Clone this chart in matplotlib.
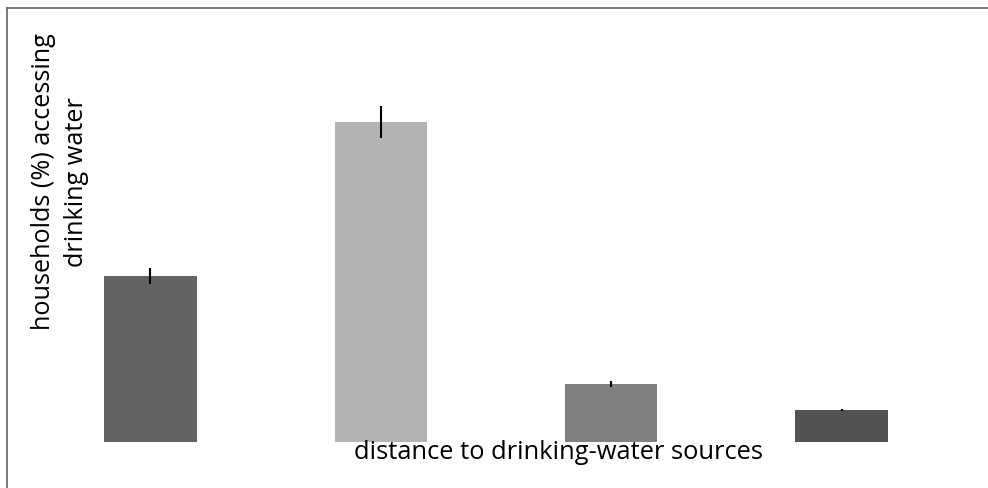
import numpy as np
import matplotlib.pyplot as plt
from matplotlib.lines import Line2D

# data
categories = ["d1", "d2", "d3", "d4"]
values = [30.1, 58.0, 10.5, 5.8]
errors = [1.45, 2.9, 0.55, 0.2]
colors = ["#636363", "#b3b3b3", "#808080", "#525252"]

W, H = 988, 489
fig = plt.figure(figsize=(W / 100, H / 100), dpi=100)

# axes placed in pixel terms
left, right = 35.3, 956.7
bottom, top = 443.0, 29.2
ax = fig.add_axes([left / W, 1 - bottom / H, (right - left) / W, (bottom - top) / H])

x = np.arange(len(categories))
ax.bar(x, values, width=0.4, color=colors, yerr=errors,
       error_kw=dict(ecolor="black", elinewidth=1.5, capsize=0))
ax.set_xlim(-0.5, 3.5)
ax.set_ylim(0, 75)
ax.axis("off")

font = "Open Sans"
fig.text(558 / W, 1 - 453 / H, "distance to drinking-water sources",
         ha="center", va="center", fontsize=18.4, family=font)
fig.text(60 / W, 1 - 182 / H, "households (%) accessing\ndrinking water",
         rotation=90, ha="center", va="center", multialignment="center",
         fontsize=18.2, family=font, linespacing=1.38)

# frame lines on top and left
fig.add_artist(Line2D([6.5 / W, 1], [1 - 8.5 / H, 1 - 8.5 / H], color="#666666", lw=1.2))
fig.add_artist(Line2D([6.5 / W, 6.5 / W], [0, 1 - 8.5 / H], color="#666666", lw=1.2))

fig.savefig("out.png", dpi=100)
